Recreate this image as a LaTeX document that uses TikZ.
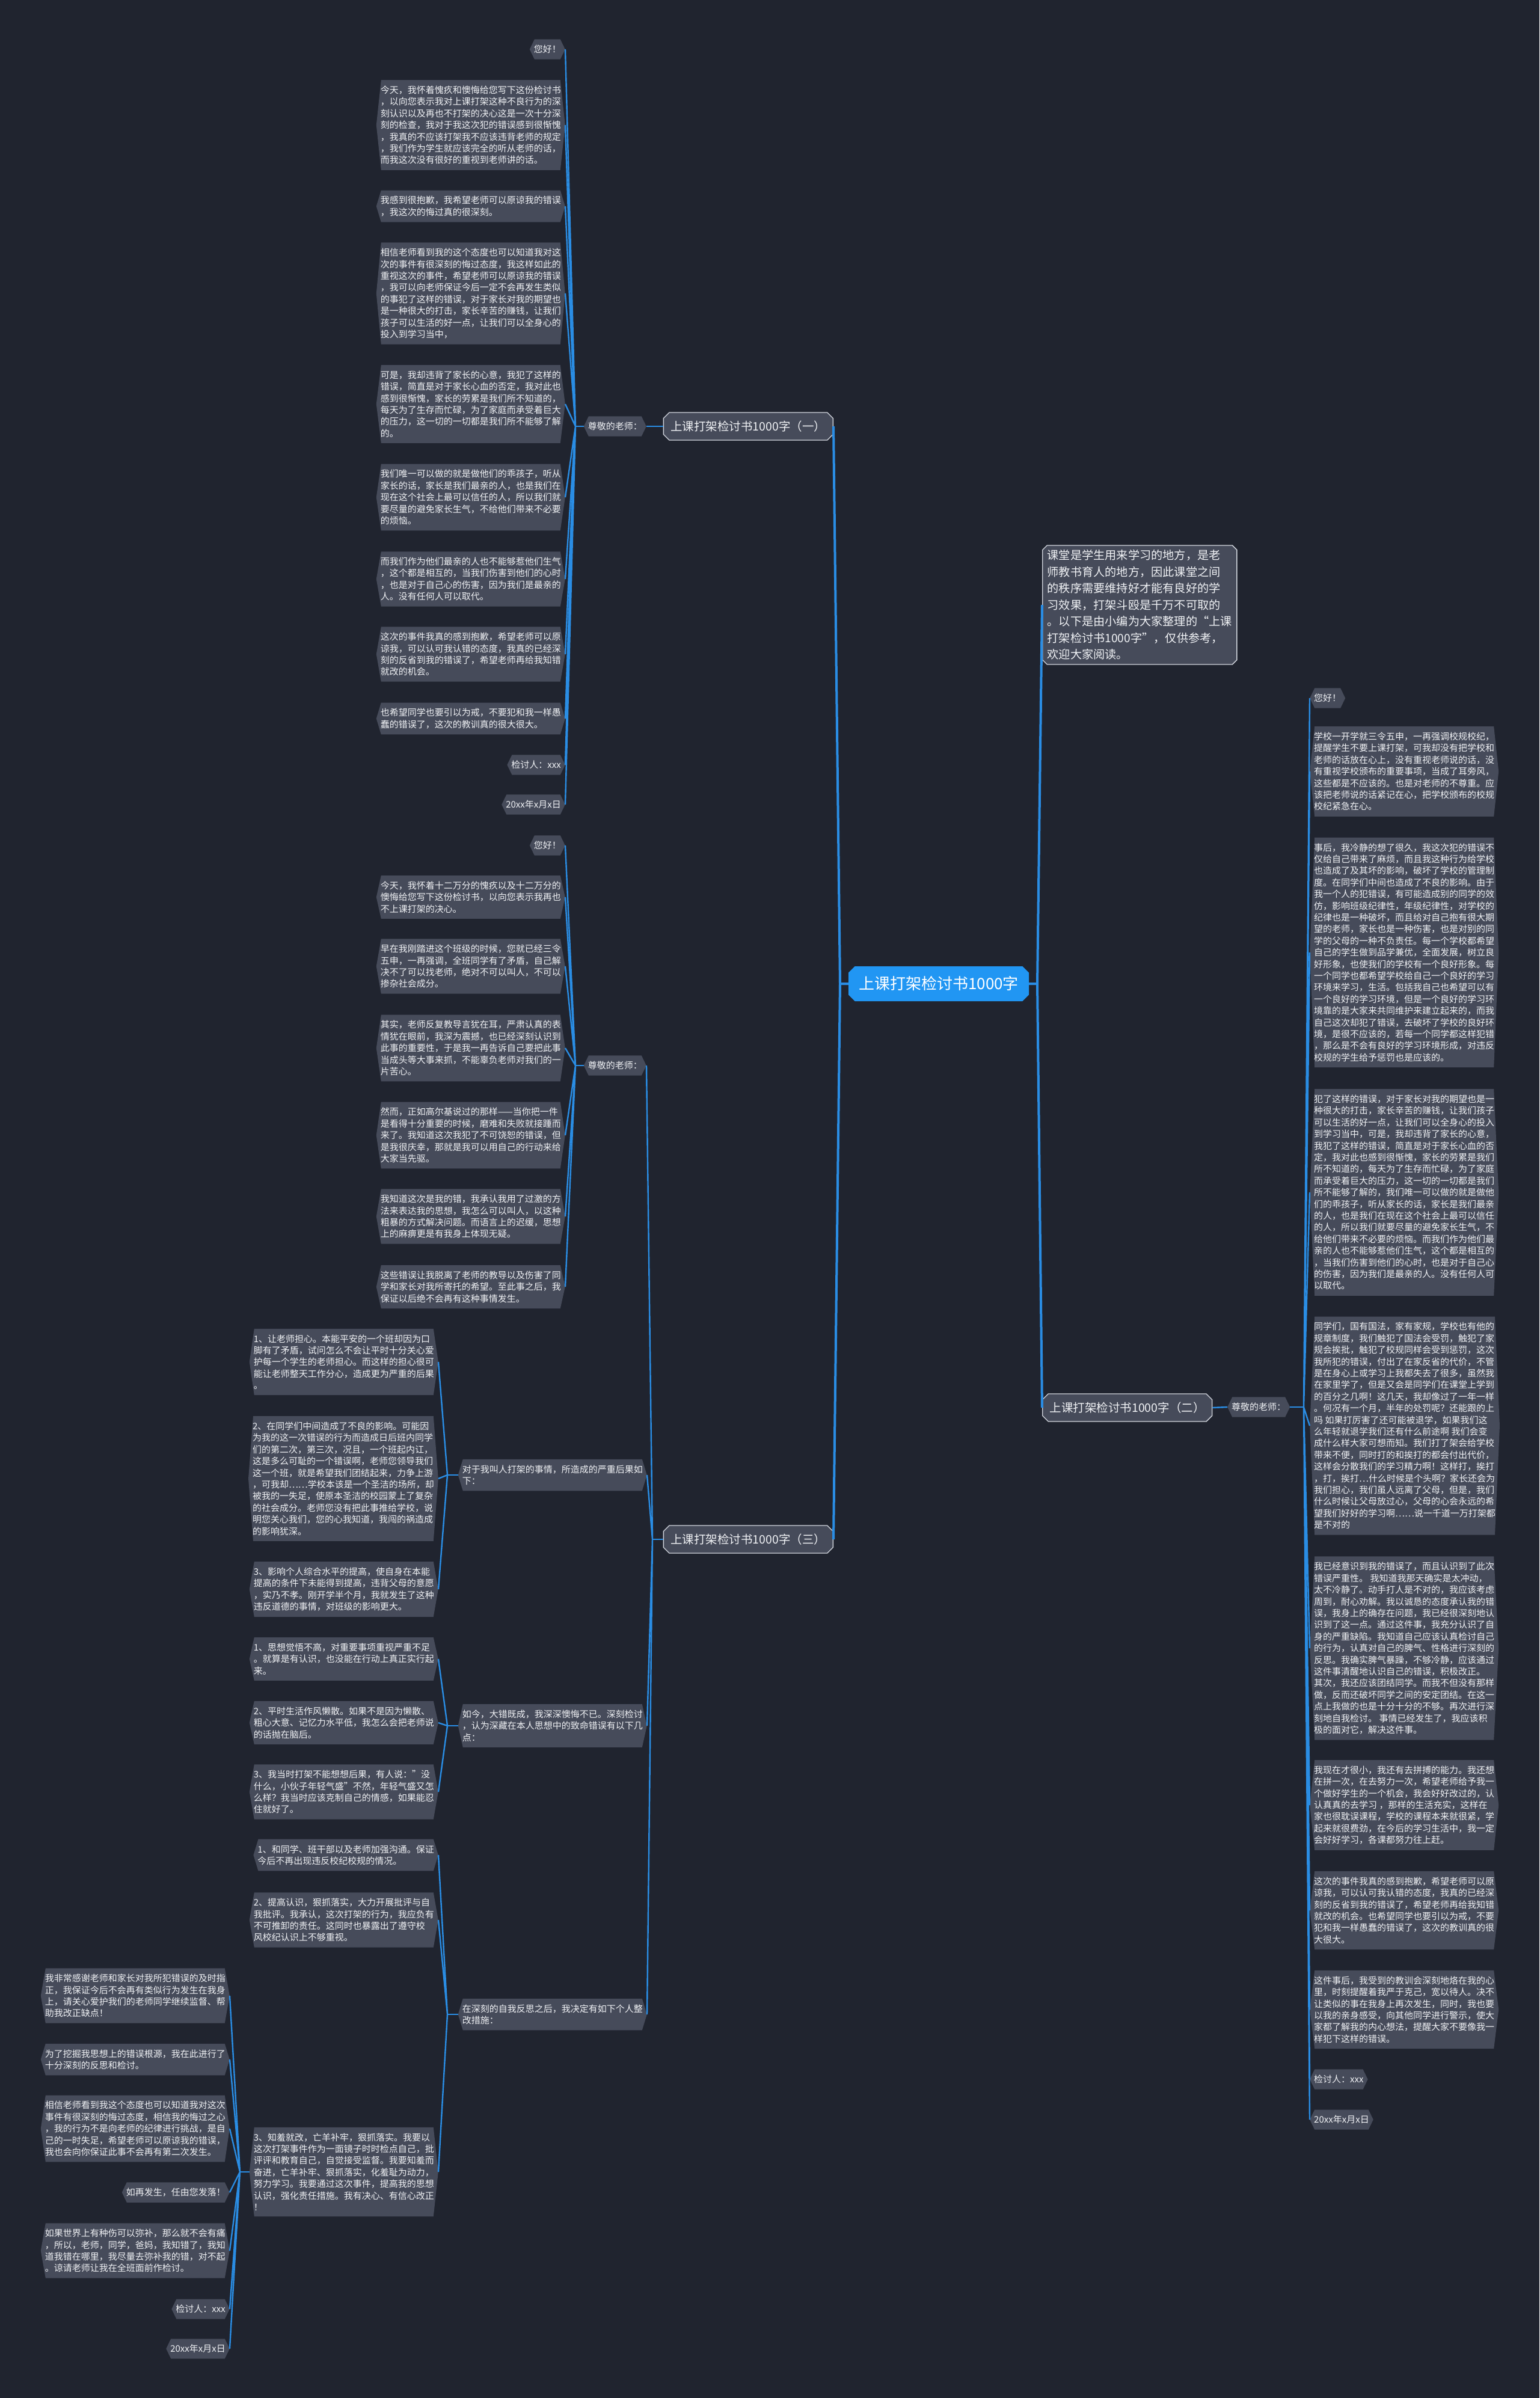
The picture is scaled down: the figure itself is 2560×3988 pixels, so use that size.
\documentclass[tikz,border=0pt]{standalone}
\usepackage{fontspec}
\setmainfont{Noto Sans CJK SC}
\usetikzlibrary{shapes.misc}
\definecolor{bgcol}{HTML}{20242F}
\definecolor{boxcol}{HTML}{464B5A}
\definecolor{linecol}{HTML}{2A8DE4}
\definecolor{rootcol}{HTML}{2196F3}
\definecolor{rimcol}{HTML}{D2D6DE}
\definecolor{txtcol}{HTML}{F0F2F5}
\begin{document}
\begin{tikzpicture}[x=1pt,y=-1pt]
    \tikzset{
      hexbox/.style={font=\fontsize{15}{19.4}\selectfont, text=txtcol, align=left,
        inner xsep=7pt, inner ysep=9.6pt, fill=bgcol,
        path picture={\fill[boxcol] ([xshift=8pt]path picture bounding box.north west)
          -- ([xshift=-8pt]path picture bounding box.north east)
          -- (path picture bounding box.east)
          -- ([xshift=-8pt]path picture bounding box.south east)
          -- ([xshift=8pt]path picture bounding box.south west)
          -- (path picture bounding box.west) -- cycle;}},
      sectbox/.style={chamfered rectangle, chamfered rectangle xsep=6pt, draw=rimcol,
        line width=1.3pt, fill=boxcol, text=txtcol, font=\fontsize{19.5}{24}\selectfont,
        minimum width=282pt, minimum height=46pt, inner xsep=2pt},
      rootbox/.style={chamfered rectangle, chamfered rectangle xsep=7pt, fill=rootcol,
        text=white, font=\fontsize{26}{30}\selectfont, minimum width=300pt,
        minimum height=58pt, inner xsep=2pt},
      introbox/.style={chamfered rectangle, chamfered rectangle xsep=4pt, draw=rimcol,
        line width=1.3pt, fill=boxcol, text=txtcol, align=left,
        font=\fontsize{19.2}{27.5}\selectfont, inner xsep=4pt, inner ysep=4pt},
      conn/.style={draw=linecol, line width=2.4pt},
      trunk/.style={draw=linecol, line width=4pt}
    }
    \fill[bgcol] (0,0) rectangle (2560,3988);

    % Level 0 - root
    \node[rootbox] (root) at (1561,1636) {上课打架检讨书1000字};

    % Level 1 - sections and intro
    \node[sectbox, anchor=east] (s1) at (1386,709) {上课打架检讨书1000字（一）};
    \node[sectbox, anchor=east] (s3) at (1386,2560) {上课打架检讨书1000字（三）};
    \node[sectbox, anchor=west] (s2) at (1733,2341) {上课打架检讨书1000字（二）};
    \node[introbox, anchor=west] (intro) at (1733,1006) {课堂是学生用来学习的地方，是老\\师教书育人的地方，因此课堂之间\\的秩序需要维持好才能有良好的学\\习效果，打架斗殴是千万不可取的\\。以下是由小编为大家整理的“上课\\打架检讨书1000字”，仅供参考，\\欢迎大家阅读。};

    % Section one - greeting and letter
    \node[hexbox, anchor=east] (t1) at (1075,709) {尊敬的老师：};
    \node[hexbox, anchor=east] (a1) at (940,82) {您好！};
    \node[hexbox, anchor=east] (a2) at (940,208) {今天，我怀着愧疚和懊悔给您写下这份检讨书\\，以向您表示我对上课打架这种不良行为的深\\刻认识以及再也不打架的决心这是一次十分深\\刻的检查，我对于我这次犯的错误感到很惭愧\\，我真的不应该打架我不应该违背老师的规定\\，我们作为学生就应该完全的听从老师的话，\\而我这次没有很好的重视到老师讲的话。};
    \node[hexbox, anchor=east] (a3) at (940,343) {我感到很抱歉，我希望老师可以原谅我的错误\\，我这次的悔过真的很深刻。};
    \node[hexbox, anchor=east] (a4) at (940,488) {相信老师看到我的这个态度也可以知道我对这\\次的事件有很深刻的悔过态度，我这样如此的\\重视这次的事件，希望老师可以原谅我的错误\\，我可以向老师保证今后一定不会再发生类似\\的事犯了这样的错误，对于家长对我的期望也\\是一种很大的打击，家长辛苦的赚钱，让我们\\孩子可以生活的好一点，让我们可以全身心的\\投入到学习当中，};
    \node[hexbox, anchor=east] (a5) at (940,672) {可是，我却违背了家长的心意，我犯了这样的\\错误，简直是对于家长心血的否定，我对此也\\感到很惭愧，家长的劳累是我们所不知道的，\\每天为了生存而忙碌，为了家庭而承受着巨大\\的压力，这一切的一切都是我们所不能够了解\\的。};
    \node[hexbox, anchor=east] (a6) at (940,827) {我们唯一可以做的就是做他们的乖孩子，听从\\家长的话，家长是我们最亲的人，也是我们在\\现在这个社会上最可以信任的人，所以我们就\\要尽量的避免家长生气，不给他们带来不必要\\的烦恼。};
    \node[hexbox, anchor=east] (a7) at (940,963) {而我们作为他们最亲的人也不能够惹他们生气\\，这个都是相互的，当我们伤害到他们的心时\\，也是对于自己心的伤害，因为我们是最亲的\\人。没有任何人可以取代。};
    \node[hexbox, anchor=east] (a8) at (940,1088) {这次的事件我真的感到抱歉，希望老师可以原\\谅我，可以认可我认错的态度，我真的已经深\\刻的反省到我的错误了，希望老师再给我知错\\就改的机会。};
    \node[hexbox, anchor=east] (a9) at (940,1195) {也希望同学也要引以为戒，不要犯和我一样愚\\蠢的错误了，这次的教训真的很大很大。};
    \node[hexbox, anchor=east] (a10) at (940,1272) {检讨人：xxx};
    \node[hexbox, anchor=east] (a11) at (940,1338) {20xx年x月x日};

    % Section three - greeting and letter
    \node[hexbox, anchor=east] (t3) at (1075,1772) {尊敬的老师：};
    \node[hexbox, anchor=east] (b1) at (940,1406) {您好！};
    \node[hexbox, anchor=east] (b2) at (940,1492) {今天，我怀着十二万分的愧疚以及十二万分的\\懊悔给您写下这份检讨书，以向您表示我再也\\不上课打架的决心。};
    \node[hexbox, anchor=east] (b3) at (940,1607) {早在我刚踏进这个班级的时候，您就已经三令\\五申，一再强调，全班同学有了矛盾，自己解\\决不了可以找老师，绝对不可以叫人，不可以\\掺杂社会成分。};
    \node[hexbox, anchor=east] (b4) at (940,1743) {其实，老师反复教导言犹在耳，严肃认真的表\\情犹在眼前，我深为震撼，也已经深刻认识到\\此事的重要性，于是我一再告诉自己要把此事\\当成头等大事来抓，不能辜负老师对我们的一\\片苦心。};
    \node[hexbox, anchor=east] (b5) at (940,1888) {然而，正如高尔基说过的那样——当你把一件\\是看得十分重要的时候，磨难和失败就接踵而\\来了。我知道这次我犯了不可饶恕的错误，但\\是我很庆幸，那就是我可以用自己的行动来给\\大家当先驱。};
    \node[hexbox, anchor=east] (b6) at (940,2023) {我知道这次是我的错，我承认我用了过激的方\\法来表达我的思想，我怎么可以叫人，以这种\\粗暴的方式解决问题。而语言上的迟缓，思想\\上的麻痹更是有我身上体现无疑。};
    \node[hexbox, anchor=east] (b7) at (940,2140) {这些错误让我脱离了老师的教导以及伤害了同\\学和家长对我所寄托的希望。至此事之后，我\\保证以后绝不会再有这种事情发生。};

    % Section three - consequences
    \node[hexbox, anchor=east] (c0) at (1076,2453) {对于我叫人打架的事情，所造成的严重后果如\\下：};
    \node[hexbox, anchor=east] (c1) at (729,2265) {1、让老师担心。本能平安的一个班却因为口\\脚有了矛盾，试问怎么不会让平时十分关心爱\\护每一个学生的老师担心。而这样的担心很可\\能让老师整天工作分心，造成更为严重的后果\\。};
    \node[hexbox, anchor=east] (c2) at (729,2459) {2、在同学们中间造成了不良的影响。可能因\\为我的这一次错误的行为而造成日后班内同学\\们的第二次，第三次，况且，一个班起内讧，\\这是多么可耻的一个错误啊，老师您领导我们\\这一个班，就是希望我们团结起来，力争上游\\，可我却……学校本该是一个圣洁的场所，却\\被我的一失足，使原本圣洁的校园蒙上了复杂\\的社会成分。老师您没有把此事推给学校，说\\明您关心我们，您的心我知道，我闯的祸造成\\的影响犹深。};
    \node[hexbox, anchor=east] (c3) at (729,2643) {3、影响个人综合水平的提高，使自身在本能\\提高的条件下未能得到提高，违背父母的意愿\\，实乃不孝。刚开学半个月，我就发生了这种\\违反道德的事情，对班级的影响更大。};

    % Section three - faults
    \node[hexbox, anchor=east] (d0) at (1076,2870) {如今，大错既成，我深深懊悔不已。深刻检讨\\，认为深藏在本人思想中的致命错误有以下几\\点：};
    \node[hexbox, anchor=east] (d1) at (729,2759) {1、思想觉悟不高，对重要事项重视严重不足\\。就算是有认识，也没能在行动上真正实行起\\来。};
    \node[hexbox, anchor=east] (d2) at (729,2865) {2、平时生活作风懒散。如果不是因为懒散、\\粗心大意、记忆力水平低，我怎么会把老师说\\的话抛在脑后。};
    \node[hexbox, anchor=east] (d3) at (729,2980) {3、我当时打架不能想想后果，有人说："没\\什么，小伙子年轻气盛"不然，年轻气盛又怎\\么样？我当时应该克制自己的情感，如果能忍\\住就好了。};

    % Section three - measures
    \node[hexbox, anchor=east] (e0) at (1076,3350) {在深刻的自我反思之后，我决定有如下个人整\\改措施：};
    \node[hexbox, anchor=east] (e1) at (729,3085) {1、和同学、班干部以及老师加强沟通。保证\\今后不再出现违反校纪校规的情况。};
    \node[hexbox, anchor=east] (e2) at (729,3193) {2、提高认识，狠抓落实，大力开展批评与自\\我批评。我承认，这次打架的行为，我应负有\\不可推卸的责任。这同时也暴露出了遵守校\\风校纪认识上不够重视。};
    \node[hexbox, anchor=east] (e3) at (729,3612) {3、知羞就改，亡羊补牢，狠抓落实。我要以\\这次打架事件作为一面镜子时时检点自己，批\\评评和教育自己，自觉接受监督。我要知羞而\\奋进，亡羊补牢、狠抓落实，化羞耻为动力，\\努力学习。我要通过这次事件，提高我的思想\\认识，强化责任措施。我有决心、有信心改正\\！};
    \node[hexbox, anchor=east] (f1) at (382,3319) {我非常感谢老师和家长对我所犯错误的及时指\\正，我保证今后不会再有类似行为发生在我身\\上，请关心爱护我们的老师同学继续监督、帮\\助我改正缺点！};
    \node[hexbox, anchor=east] (f2) at (382,3425) {为了挖掘我思想上的错误根源，我在此进行了\\十分深刻的反思和检讨。};
    \node[hexbox, anchor=east] (f3) at (382,3540) {相信老师看到我这个态度也可以知道我对这次\\事件有很深刻的悔过态度，相信我的悔过之心\\，我的行为不是向老师的纪律进行挑战，是自\\己的一时失足，希望老师可以原谅我的错误，\\我也会向你保证此事不会再有第二次发生。};
    \node[hexbox, anchor=east] (f4) at (382,3646) {如再发生，任由您发落！};
    \node[hexbox, anchor=east] (f5) at (382,3743) {如果世界上有种伤可以弥补，那么就不会有痛\\，所以，老师，同学，爸妈，我知错了，我知\\道我错在哪里，我尽量去弥补我的错，对不起\\。谅请老师让我在全班面前作检讨。};
    \node[hexbox, anchor=east] (f6) at (382,3840) {检讨人：xxx};
    \node[hexbox, anchor=east] (f7) at (382,3906) {20xx年x月x日};

    % Section two - greeting and letter
    \node[hexbox, anchor=west] (t2) at (2041,2340) {尊敬的老师：};
    \node[hexbox, anchor=west] (g1) at (2178,1161) {您好！};
    \node[hexbox, anchor=west] (g2) at (2178,1283) {学校一开学就三令五申，一再强调校规校纪，\\提醒学生不要上课打架，可我却没有把学校和\\老师的话放在心上，没有重视老师说的话，没\\有重视学校颁布的重要事项，当成了耳旁风，\\这些都是不应该的。也是对老师的不尊重。应\\该把老师说的话紧记在心，把学校颁布的校规\\校纪紧急在心。};
    \node[hexbox, anchor=west] (g3) at (2178,1584) {事后，我冷静的想了很久，我这次犯的错误不\\仅给自己带来了麻烦，而且我这种行为给学校\\也造成了及其坏的影响，破坏了学校的管理制\\度。在同学们中间也造成了不良的影响。由于\\我一个人的犯错误，有可能造成别的同学的效\\仿，影响班级纪律性，年级纪律性，对学校的\\纪律也是一种破坏，而且给对自己抱有很大期\\望的老师，家长也是一种伤害，也是对别的同\\学的父母的一种不负责任。每一个学校都希望\\自己的学生做到品学兼优，全面发展，树立良\\好形象，也使我们的学校有一个良好形象。每\\一个同学也都希望学校给自己一个良好的学习\\环境来学习，生活。包括我自己也希望可以有\\一个良好的学习环境，但是一个良好的学习环\\境靠的是大家来共同维护来建立起来的，而我\\自己这次却犯了错误，去破坏了学校的良好环\\境，是很不应该的，若每一个同学都这样犯错\\，那么是不会有良好的学习环境形成，对违反\\校规的学生给予惩罚也是应该的。};
    \node[hexbox, anchor=west] (g4) at (2178,1983) {犯了这样的错误，对于家长对我的期望也是一\\种很大的打击，家长辛苦的赚钱，让我们孩子\\可以生活的好一点，让我们可以全身心的投入\\到学习当中，可是，我却违背了家长的心意，\\我犯了这样的错误，简直是对于家长心血的否\\定，我对此也感到很惭愧，家长的劳累是我们\\所不知道的，每天为了生存而忙碌，为了家庭\\而承受着巨大的压力，这一切的一切都是我们\\所不能够了解的，我们唯一可以做的就是做他\\们的乖孩子，听从家长的话，家长是我们最亲\\的人，也是我们在现在这个社会上最可以信任\\的人，所以我们就要尽量的避免家长生气，不\\给他们带来不必要的烦恼。而我们作为他们最\\亲的人也不能够惹他们生气，这个都是相互的\\，当我们伤害到他们的心时，也是对于自己心\\的伤害，因为我们是最亲的人。没有任何人可\\以取代。};
    \node[hexbox, anchor=west] (g5) at (2178,2371) {同学们，国有国法，家有家规，学校也有他的\\规章制度，我们触犯了国法会受罚，触犯了家\\规会挨批，触犯了校规同样会受到惩罚，这次\\我所犯的错误，付出了在家反省的代价，不管\\是在身心上或学习上我都失去了很多，虽然我\\在家里学了，但是又会是同学们在课堂上学到\\的百分之几啊！这几天，我却像过了一年一样\\。何况有一个月，半年的处罚呢？还能跟的上\\吗 如果打厉害了还可能被退学，如果我们这\\么年轻就退学我们还有什么前途啊 我们会变\\成什么样大家可想而知。我们打了架会给学校\\带来不便，同时打的和挨打的都会付出代价，\\这样会分散我们的学习精力啊！这样打，挨打\\，打，挨打…什么时候是个头啊？家长还会为\\我们担心，我们虽人远离了父母，但是，我们\\什么时候让父母放过心，父母的心会永远的希\\望我们好好的学习啊……说一千道一万打架都\\是不对的};
    \node[hexbox, anchor=west] (g6) at (2178,2741) {我已经意识到我的错误了，而且认识到了此次\\错误严重性。 我知道我那天确实是太冲动，\\太不冷静了。动手打人是不对的，我应该考虑\\周到，耐心劝解。我以诚恳的态度承认我的错\\误，我身上的确存在问题，我已经很深刻地认\\识到了这一点。通过这件事，我充分认识了自\\身的严重缺陷。我知道自己应该认真检讨自己\\的行为，认真对自己的脾气、性格进行深刻的\\反思。我确实脾气暴躁，不够冷静，应该通过\\这件事清醒地认识自己的错误，积极改正。\\其次，我还应该团结同学。而我不但没有那样\\做，反而还破坏同学之间的安定团结。在这一\\点上我做的也是十分十分的不够。再次进行深\\刻地自我检讨。 事情已经发生了，我应该积\\极的面对它，解决这件事。};
    \node[hexbox, anchor=west] (g7) at (2178,3002) {我现在才很小，我还有去拼搏的能力。我还想\\在拼一次，在去努力一次，希望老师给予我一\\个做好学生的一个机会，我会好好改过的，认\\认真真的去学习 ，那样的生活充实，这样在\\家也很耽误课程，学校的课程本来就很紧，学\\起来就很费劲，在今后的学习生活中，我一定\\会好好学习，各课都努力往上赶。};
    \node[hexbox, anchor=west] (g8) at (2178,3177) {这次的事件我真的感到抱歉，希望老师可以原\\谅我，可以认可我认错的态度，我真的已经深\\刻的反省到我的错误了，希望老师再给我知错\\就改的机会。也希望同学也要引以为戒，不要\\犯和我一样愚蠢的错误了，这次的教训真的很\\大很大。};
    \node[hexbox, anchor=west] (g9) at (2178,3342) {这件事后，我受到的教训会深刻地烙在我的心\\里，时刻提醒着我严于克己，宽以待人。决不\\让类似的事在我身上再次发生，同时，我也要\\以我的亲身感受，向其他同学进行警示，使大\\家都了解我的内心想法，提醒大家不要像我一\\样犯下这样的错误。};
    \node[hexbox, anchor=west] (g10) at (2178,3458) {检讨人：xxx};
    \node[hexbox, anchor=west] (g11) at (2178,3525) {20xx年x月x日};

    % Hub points where the branches fan out
    \coordinate (hr0) at (1397,1636);
    \coordinate (hr1) at (1725,1636);
    \coordinate (h1) at (957,709);
    \coordinate (h3) at (1085,2560);
    \coordinate (h3a) at (957,1772);
    \coordinate (hc) at (744,2453);
    \coordinate (hd) at (744,2870);
    \coordinate (he) at (744,3350);
    \coordinate (hf) at (399,3612);
    \coordinate (h2) at (2168,2340);

    % Root branches
    \draw[trunk] (root.west) -- (hr0) -- (s1.east) (hr0) -- (s3.east);
    \draw[trunk] (root.east) -- (hr1) -- (intro.west) (hr1) -- (s2.west);

    % Section one
    \draw[conn] (s1.west) -- (t1.east);
    \draw[conn] (t1.west) -- (h1);
    \draw[conn] (h1) -- (a1.east) (h1) -- (a2.east) (h1) -- (a3.east) (h1) -- (a4.east)
      (h1) -- (a5.east) (h1) -- (a6.east) (h1) -- (a7.east) (h1) -- (a8.east)
      (h1) -- (a9.east) (h1) -- (a10.east) (h1) -- (a11.east);

    % Section three
    \draw[conn] (s3.west) -- (h3);
    \draw[conn] (h3) -- (t3.east) (h3) -- (c0.east) (h3) -- (d0.east) (h3) -- (e0.east);
    \draw[conn] (t3.west) -- (h3a);
    \draw[conn] (h3a) -- (b1.east) (h3a) -- (b2.east) (h3a) -- (b3.east) (h3a) -- (b4.east)
      (h3a) -- (b5.east) (h3a) -- (b6.east) (h3a) -- (b7.east);
    \draw[conn] (c0.west) -- (hc);
    \draw[conn] (hc) -- (c1.east) (hc) -- (c2.east) (hc) -- (c3.east);
    \draw[conn] (d0.west) -- (hd);
    \draw[conn] (hd) -- (d1.east) (hd) -- (d2.east) (hd) -- (d3.east);
    \draw[conn] (e0.west) -- (he);
    \draw[conn] (he) -- (e1.east) (he) -- (e2.east) (he) -- (e3.east);
    \draw[conn] (e3.west) -- (hf);
    \draw[conn] (hf) -- (f1.east) (hf) -- (f2.east) (hf) -- (f3.east) (hf) -- (f4.east)
      (hf) -- (f5.east) (hf) -- (f6.east) (hf) -- (f7.east);

    % Section two
    \draw[conn] (s2.east) -- (t2.west);
    \draw[conn] (t2.east) -- (h2);
    \draw[conn] (h2) -- (g1.west) (h2) -- (g2.west) (h2) -- (g3.west) (h2) -- (g4.west)
      (h2) -- (g5.west) (h2) -- (g6.west) (h2) -- (g7.west) (h2) -- (g8.west)
      (h2) -- (g9.west) (h2) -- (g10.west) (h2) -- (g11.west);

\end{tikzpicture}
\end{document}
